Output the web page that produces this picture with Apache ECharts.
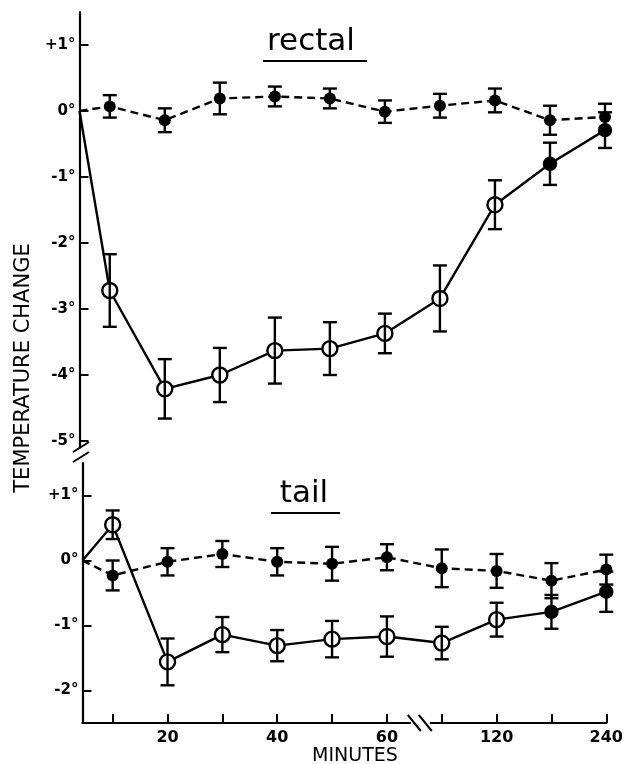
<!DOCTYPE html>
<html>
<head>
<meta charset="utf-8">
<script src="https://cdn.jsdelivr.net/npm/echarts@6/dist/echarts.min.js"></script>
<style>
    html, body { margin: 0; padding: 0; background: #fff; }
    #main { width: 626px; height: 764px; }
</style>
</head>
<body>
<div id="main"></div>
<script>
    // sampling times (minutes) and their slot on the broken time axis
    var times = [0, 10, 20, 30, 40, 50, 60, 90, 120, 180, 240];
    var slots = [0.45, 1, 2, 3, 4, 5, 6, 7, 8, 9, 10];
    var tickSlots = [1, 2, 3, 4, 5, 6, 7, 8, 9, 10];
    var labelSlots = [2, 4, 6, 8, 10];

    var rectalTicks = [-5, -4, -3, -2, -1, 0, 1];
    var tailTicks = [-2, -1, 0, 1];

    // rectal temperature change (deg)
    var rectalControl    = [0, 0.07, -0.14, 0.19, 0.22, 0.19, -0.01, 0.08, 0.16, -0.14, -0.09];
    var rectalControlErr = [0, 0.17, 0.18, 0.24, 0.15, 0.15, 0.17, 0.18, 0.18, 0.22, 0.20];
    var rectalTreated    = [0, -2.72, -4.21, -4.00, -3.63, -3.60, -3.37, -2.84, -1.42, -0.80, -0.29];
    var rectalTreatedErr = [0, 0.55, 0.45, 0.41, 0.50, 0.40, 0.30, 0.50, 0.37, 0.32, 0.27];

    // tail temperature change (deg)
    var tailControl    = [0, -0.23, -0.02, 0.10, -0.02, -0.05, 0.05, -0.12, -0.16, -0.31, -0.14];
    var tailControlErr = [0, 0.23, 0.21, 0.20, 0.21, 0.26, 0.20, 0.29, 0.26, 0.27, 0.23];
    var tailTreated    = [0, 0.55, -1.56, -1.14, -1.31, -1.21, -1.17, -1.27, -0.91, -0.79, -0.48];
    var tailTreatedErr = [0, 0.22, 0.36, 0.27, 0.24, 0.28, 0.31, 0.25, 0.26, 0.26, 0.31];

    // treated points from this index on are drawn filled
    var filledFrom = 9;

    var chart = echarts.init(document.getElementById('main'));

    function degLabel(v) {
        return (v > 0 ? '+' + v : String(v)) + '°';
    }

    function controlData(vals) {
        return vals.map(function (v, i) {
            var d = { value: [slots[i], v] };
            if (i === 0) d.symbol = 'none';
            return d;
        });
    }

    function treatedData(vals) {
        return vals.map(function (v, i) {
            var d = { value: [slots[i], v] };
            if (i === 0) {
                d.symbol = 'none';
            } else if (i >= filledFrom) {
                d.symbolSize = 12;
                d.itemStyle = { color: '#000' };
            }
            return d;
        });
    }

    function barData(vals, errs) {
        var out = [];
        vals.forEach(function (v, i) {
            if (errs[i] > 0) out.push([slots[i], v - errs[i], v + errs[i]]);
        });
        return out;
    }

    function renderBar(params, api) {
        var x = api.value(0);
        var top = api.coord([x, api.value(2)]);
        var bot = api.coord([x, api.value(1)]);
        var w = 7;
        var st = { stroke: '#000', lineWidth: 2.4 };
        return {
            type: 'group',
            children: [
                { type: 'line', shape: { x1: top[0], y1: top[1], x2: bot[0], y2: bot[1] }, style: st },
                { type: 'line', shape: { x1: top[0] - w, y1: top[1], x2: top[0] + w, y2: top[1] }, style: st },
                { type: 'line', shape: { x1: bot[0] - w, y1: bot[1], x2: bot[0] + w, y2: bot[1] }, style: st }
            ]
        };
    }

    function xAxisCfg(gridIndex, show) {
        return {
            gridIndex: gridIndex,
            type: 'value',
            min: 0.45,
            max: 10,
            show: show,
            axisLine: { onZero: false, lineStyle: { color: '#000', width: 2.2 } },
            axisTick: { inside: true, length: 9, customValues: tickSlots, lineStyle: { color: '#000', width: 2 } },
            axisLabel: {
                customValues: labelSlots,
                formatter: function (v) { return String(times[slots.indexOf(v)]); },
                color: '#000', fontFamily: 'DejaVu Sans', fontWeight: 'bold', fontSize: 16, margin: 7
            },
            splitLine: { show: false }
        };
    }

    function yAxisCfg(gridIndex, min, max, ticks) {
        return {
            gridIndex: gridIndex,
            type: 'value',
            min: min,
            max: max,
            axisLine: { show: true, onZero: false, lineStyle: { color: '#000', width: 2.2 } },
            axisTick: { show: true, inside: true, length: 9, customValues: ticks, lineStyle: { color: '#000', width: 2 } },
            axisLabel: {
                customValues: ticks,
                formatter: degLabel,
                color: '#000', fontFamily: 'DejaVu Sans', fontWeight: 'bold', fontSize: 15, margin: 4
            },
            splitLine: { show: false }
        };
    }

    function lineSeries(name, axis, data, dashed) {
        return {
            name: name,
            type: 'line',
            xAxisIndex: axis,
            yAxisIndex: axis,
            data: data,
            symbol: 'circle',
            symbolSize: dashed ? 12 : 15,
            lineStyle: { color: '#000', width: 2.4, type: dashed ? [8, 5] : 'solid' },
            itemStyle: dashed ? { color: '#000' } : { color: '#fff', borderColor: '#000', borderWidth: 2.4 },
            z: 2
        };
    }

    function barSeries(axis, data) {
        return {
            type: 'custom',
            xAxisIndex: axis,
            yAxisIndex: axis,
            data: data,
            renderItem: renderBar,
            encode: { x: 0, y: [1, 2] },
            silent: true,
            z: 5
        };
    }

    chart.setOption({
        animation: false,
        backgroundColor: '#fff',
        grid: [
            { left: 79.5, right: 21, top: 12, height: 435.6 },
            { left: 82.5, right: 17, top: 463, height: 260 }
        ],
        xAxis: [xAxisCfg(0, false), xAxisCfg(1, true)],
        yAxis: [
            yAxisCfg(0, -5.1, 1.5, rectalTicks),
            yAxisCfg(1, -2.5, 1.5, tailTicks)
        ],
        series: [
            lineSeries('rectal control', 0, controlData(rectalControl), true),
            lineSeries('rectal treated', 0, treatedData(rectalTreated), false),
            lineSeries('tail control', 1, controlData(tailControl), true),
            lineSeries('tail treated', 1, treatedData(tailTreated), false),
            barSeries(0, barData(rectalControl, rectalControlErr)),
            barSeries(0, barData(rectalTreated, rectalTreatedErr)),
            barSeries(1, barData(tailControl, tailControlErr)),
            barSeries(1, barData(tailTreated, tailTreatedErr))
        ]
    });

    // break marks, panel titles and axis names
    var axisY = chart.convertToPixel({ xAxisIndex: 1, yAxisIndex: 1 }, [6.6, -2.5]);
    var bx = axisY[0], by = axisY[1];
    var ink = { stroke: '#000', lineWidth: 2 };
    var txt = function (text, x, y, size, extra) {
        return Object.assign({
            type: 'text', x: x, y: y, z: 100,
            style: { text: text, fill: '#000', fontFamily: 'DejaVu Sans', fontSize: size, align: 'center', verticalAlign: 'middle' }
        }, extra || {});
    };

    chart.setOption({
        graphic: [
            { type: 'rect', z: 100, shape: { x: bx - 9, y: by - 3, width: 19, height: 6 }, style: { fill: '#fff' } },
            { type: 'line', z: 101, shape: { x1: bx - 12, y1: by - 8, x2: bx + 1, y2: by + 8 }, style: ink },
            { type: 'line', z: 101, shape: { x1: bx - 1, y1: by - 8, x2: bx + 12, y2: by + 8 }, style: ink },
            { type: 'line', z: 101, shape: { x1: 73, y1: 452, x2: 89, y2: 442 }, style: ink },
            { type: 'line', z: 101, shape: { x1: 73, y1: 462, x2: 89, y2: 452 }, style: ink },
            txt('rectal', 311, 42, 31),
            { type: 'line', z: 100, shape: { x1: 263, y1: 61, x2: 367, y2: 61 }, style: ink },
            txt('tail', 304, 494, 31),
            { type: 'line', z: 100, shape: { x1: 271, y1: 513, x2: 340, y2: 513 }, style: ink },
            txt('MINUTES', 355, 756, 19),
            txt('TEMPERATURE CHANGE', 24, 368, 21, { rotation: Math.PI / 2 })
        ]
    });
</script>
</body>
</html>
